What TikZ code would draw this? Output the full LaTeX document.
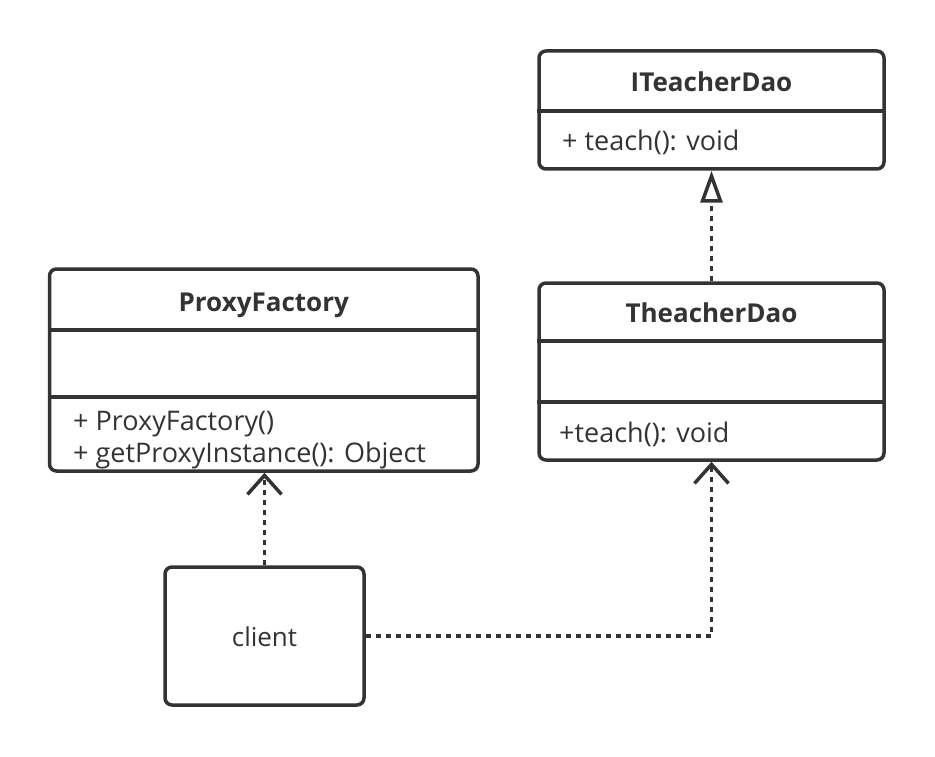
\documentclass[tikz,border=0pt]{standalone}
\usepackage{fontspec}
\setmainfont{Open Sans}
\usetikzlibrary{arrows.meta}
\definecolor{ink}{HTML}{333333}
\begin{document}
\begin{tikzpicture}[x=1pt,y=-1pt,
  box/.style={draw=ink, line width=3.5pt, rounded corners=7pt, inner sep=0pt},
  title/.style={font=\fontsize{26}{30}\selectfont\bfseries, text=ink, inner sep=0pt, anchor=base},
  member/.style={font=\fontsize{27}{32}\selectfont, text=ink, anchor=base west, inner sep=0pt},
  plain/.style={font=\fontsize{26}{30}\selectfont, text=ink, inner sep=0pt, anchor=base},
  divider/.style={draw=ink, line width=3.5pt},
  dep/.style={draw=ink, line width=3.5pt, dash pattern=on 5pt off 5pt},
  opentip/.style={-{Straight Barb[length=19pt, width=34pt]}},
  realtip/.style={-{Triangle[open, length=32pt, width=22pt]}},
]
\useasboundingbox (0,0) rectangle (935,757);

% ITeacherDao
\node[box, minimum width=345pt, minimum height=118pt] (itd) at (711.5,110) {};
\draw[divider] (itd.west |- 0,111) -- (itd.east |- 0,111);
\node[title] (itdT) at (711.5,92) {ITeacherDao};
\node[member] (itdM) at (562,151) {+ teach(): void};

% TheacherDao
\node[box, minimum width=345pt, minimum height=177pt] (td) at (711.5,371.5) {};
\draw[divider] (td.west |- 0,341) -- (td.east |- 0,341);
\draw[divider] (td.west |- 0,402) -- (td.east |- 0,402);
\node[title] (tdT) at (711.5,322) {TheacherDao};
\node[member] (tdM) at (559,442) {+teach(): void};

% ProxyFactory
\node[box, minimum width=428.5pt, minimum height=202pt] (pf) at (263.75,370) {};
\draw[divider] (pf.west |- 0,330) -- (pf.east |- 0,330);
\draw[divider] (pf.west |- 0,397) -- (pf.east |- 0,397);
\node[title] (pfT) at (263.75,311) {ProxyFactory};
\node[member] (pfM1) at (73,430) {+ ProxyFactory()};
\node[member] (pfM2) at (73,462) {+ getProxyInstance(): Object};

% client
\node[box, minimum width=199pt, minimum height=138pt] (cl) at (264.5,636) {};
\node[plain] (clT) at (264.5,646) {client};

% connectors
\draw[dep, realtip] (td.north) -- (itd.south);
\draw[dep, opentip] (cl.north) -- (cl.north |- pf.south);
\draw[dep, opentip] (cl.east) -| (td.south);
\end{tikzpicture}
\end{document}
